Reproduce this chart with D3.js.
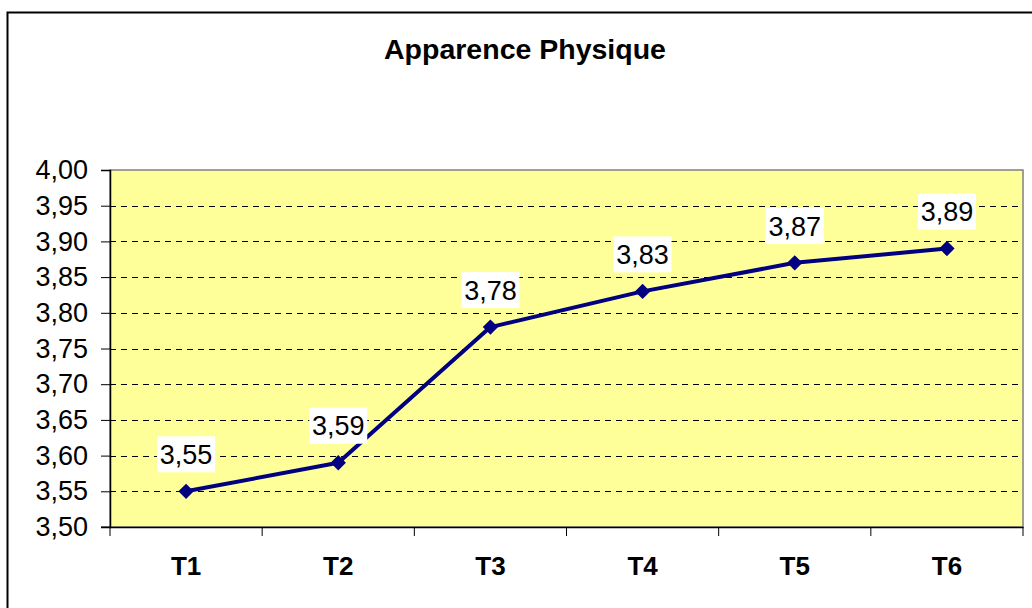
<!DOCTYPE html>
<html><head><meta charset="utf-8">
<script src="https://cdn.jsdelivr.net/npm/d3@7"></script>
<style>body{margin:0;background:#fff;}svg{display:block;font-family:"Liberation Sans",Arial,sans-serif;}</style>
</head><body>
<svg id="c" width="1032" height="608"></svg>
<script>
const categories = ["T1","T2","T3","T4","T5","T6"];
const values = [3.55,3.59,3.78,3.83,3.87,3.89];
const yTicks = [3.50,3.55,3.60,3.65,3.70,3.75,3.80,3.85,3.90,3.95,4.00];
const title = "Apparence Physique";

const svg = d3.select("#c");
const L=110, R=1023, T=170, B=527;
const fmt = v => v.toFixed(2).replace(".", ",");
const FF = "Liberation Sans, Arial, sans-serif";

// outer frame
svg.append("rect").attr("x",7.5).attr("y",12.5).attr("width",1040).attr("height",620)
  .attr("fill","#fff").attr("stroke","#000").attr("stroke-width",2);

const x = d3.scaleBand().domain(categories).range([L,R]).padding(0);
const y = d3.scaleLinear().domain([3.5,4.0]).range([B,T]);

// plot background
svg.append("rect").attr("x",L).attr("y",T).attr("width",R-L).attr("height",B-T)
  .attr("fill","#FFFF99").attr("stroke","#808080").attr("stroke-width",1.5);

// gridlines
svg.append("g").selectAll("line").data(yTicks.filter(v=>v>3.5 && v<4.0)).join("line")
  .attr("x1",L).attr("x2",R).attr("y1",d=>Math.round(y(d))+0.5).attr("y2",d=>Math.round(y(d))+0.5)
  .attr("stroke","#000").attr("stroke-dasharray","6,5").attr("stroke-width",1);

// y axis
const ya = svg.append("g").attr("transform",`translate(${L},0)`)
  .call(d3.axisLeft(y).tickValues(yTicks).tickFormat(fmt).tickSize(9).tickPadding(13));
ya.attr("font-size",null).attr("font-family",null);
ya.select(".domain").attr("stroke","#000").attr("stroke-width",1.5);
ya.selectAll(".tick line").attr("stroke","#000");
ya.selectAll("text").style("font-size","27px").attr("fill","#000").style("font-family",FF);

// x axis
const xa = svg.append("g").attr("transform",`translate(0,${B})`)
  .call(d3.axisBottom(x).tickSize(0).tickPadding(30));
xa.attr("font-size",null).attr("font-family",null);
xa.select(".domain").attr("stroke","#000").attr("stroke-width",1.5);
xa.selectAll("text").style("font-size","26px").style("font-weight","bold").attr("fill","#000").style("font-family",FF);
// category boundary ticks
const bounds = categories.map(c=>x(c)).concat([x(categories[categories.length-1])+x.bandwidth()]);
svg.append("g").selectAll("line").data(bounds).join("line")
  .attr("x1",d=>d).attr("x2",d=>d)
  .attr("y1",B).attr("y2",B+9).attr("stroke","#000").attr("stroke-width",1);
svg.append("line").attr("x1",L-9).attr("x2",L).attr("y1",B).attr("y2",B).attr("stroke","#000");

// line
const cx = d => x(d)+x.bandwidth()/2;
const line = d3.line().x((d,i)=>cx(categories[i])).y(d=>y(d));
svg.append("path").datum(values).attr("d",line).attr("fill","none")
  .attr("stroke","#000080").attr("stroke-width",4).attr("stroke-linejoin","round");

// markers
svg.append("g").selectAll("path").data(values).join("path")
  .attr("d",d3.symbol().type(d3.symbolDiamond2).size(150))
  .attr("transform",(d,i)=>`translate(${cx(categories[i])},${y(d)})`)
  .attr("fill","#000080");

// data labels
const lg = svg.append("g").selectAll("g").data(values).join("g")
  .attr("transform",(d,i)=>`translate(${cx(categories[i])},${y(d)-37})`);
lg.append("rect").attr("x",-29).attr("y",-18).attr("width",58).attr("height",36).attr("fill","#fff");
lg.append("text").text(fmt).attr("text-anchor","middle").attr("dy","0.36em")
  .style("font-size","27px").attr("fill","#000");

// title
svg.append("text").attr("x",525).attr("y",59).attr("text-anchor","middle")
  .style("font-size","28.5px").style("font-weight","bold").text(title);
</script>
</body></html>
